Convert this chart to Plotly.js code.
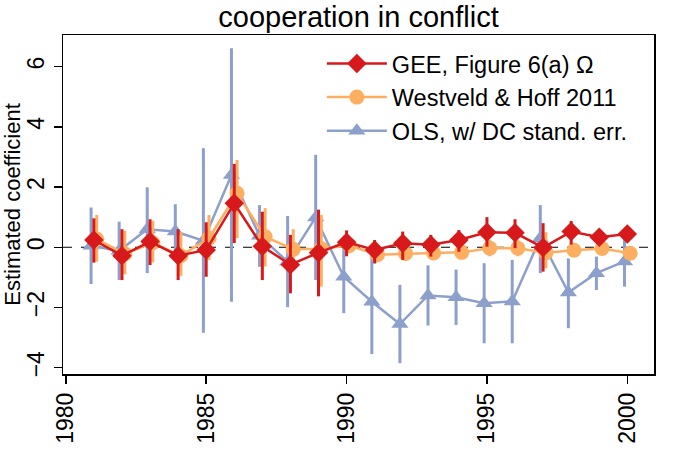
<!DOCTYPE html>
<html>
<head>
<meta charset="utf-8">
<script src="https://cdn.plot.ly/plotly-3.0.1.min.js"></script>
<style>html,body{margin:0;padding:0;background:#fff;}#chart{width:675px;height:450px;}</style>
</head>
<body>
<div id="chart"></div>
<script>
const years = [1981,1982,1983,1984,1985,1986,1987,1988,1989,1990,1991,1992,1993,1994,1995,1996,1997,1998,1999,2000];

// GEE, Figure 6(a) Omega
const geeEst   = [0.24,-0.28,0.19,-0.28,-0.09,1.46,0.03,-0.58,-0.18,0.17,-0.09,0.13,0.08,0.24,0.50,0.48,-0.01,0.52,0.33,0.44];
const geeLow   = [-0.51,-1.09,-0.59,-1.09,-0.98,0.14,-1.09,-1.53,-1.63,-0.30,-0.54,-0.42,-0.31,-0.15,0.02,-0.03,-0.81,0.09,0.18,0.29];
const geeHigh  = [0.96,0.60,0.93,0.60,0.83,2.77,1.18,0.41,1.25,0.56,0.24,0.52,0.41,0.57,1.00,0.93,0.80,0.87,0.48,0.59];

// Westveld & Hoff 2011
const whEst    = [0.27,-0.22,0.15,-0.28,0.30,1.79,0.35,-0.07,-0.05,0.06,-0.25,-0.21,-0.19,-0.17,-0.03,-0.03,-0.18,-0.10,-0.04,-0.20];
const whLow    = [-0.48,-0.90,-0.50,-0.95,-0.42,0.30,-0.64,-0.70,-1.31,-0.20,-0.50,-0.45,-0.42,-0.40,-0.30,-0.30,-0.70,-0.32,-0.25,-0.40];
const whHigh   = [1.07,0.55,0.88,0.50,1.07,2.90,1.30,0.60,1.07,0.30,0.00,0.03,0.05,0.06,0.25,0.25,0.50,0.12,0.17,0.00];

// OLS, w/ DC standard errors
const olsEst   = [0.05,-0.12,0.60,0.52,0.22,2.40,0.38,-0.48,0.99,-0.98,-1.81,-2.55,-1.60,-1.66,-1.86,-1.80,0.30,-1.50,-0.86,-0.47];
const olsLow   = [-1.22,-1.09,-0.86,-0.39,-2.84,-1.81,-0.65,-1.99,-1.09,-2.19,-3.55,-3.85,-2.60,-2.58,-3.19,-3.19,-0.86,-2.69,-1.42,-1.31];
const olsHigh  = [1.32,0.85,1.99,1.43,3.29,6.61,1.40,1.04,3.07,0.22,-0.07,-1.25,-0.60,-0.74,-0.53,-0.42,1.40,-0.37,-0.31,0.35];

const names = ["GEE, Figure 6(a) Ω", "Westveld & Hoff 2011", "OLS, w/ DC stand. err."];
const colors = ["#D7191C", "#FDAE61", "#8DA0CB"];

function shift(arr, d){ return arr.map(v => v + d); }
function errPlus(est, hi){ return est.map((v,i) => hi[i] - v); }
function errMinus(est, lo){ return est.map((v,i) => v - lo[i]); }

const ols = {
  x: shift(years, -0.1), y: olsEst, name: names[2], type: 'scatter', mode: 'lines+markers',
  line: {color: colors[2], width: 2.5},
  marker: {symbol: 'triangle-up', size: 15, color: colors[2]},
  error_y: {type: 'data', symmetric: false, array: errPlus(olsEst, olsHigh), arrayminus: errMinus(olsEst, olsLow),
            color: colors[2], thickness: 3, width: 0}
};
const wh = {
  x: shift(years, 0.1), y: whEst, name: names[1], type: 'scatter', mode: 'lines+markers',
  line: {color: colors[1], width: 2.5},
  marker: {symbol: 'circle', size: 15, color: colors[1]},
  error_y: {type: 'data', symmetric: false, array: errPlus(whEst, whHigh), arrayminus: errMinus(whEst, whLow),
            color: colors[1], thickness: 3, width: 0}
};
const gee = {
  x: years, y: geeEst, name: names[0], type: 'scatter', mode: 'lines+markers',
  line: {color: colors[0], width: 2.5},
  marker: {symbol: 'diamond', size: 15, color: colors[0]},
  error_y: {type: 'data', symmetric: false, array: errPlus(geeEst, geeHigh), arrayminus: errMinus(geeEst, geeLow),
            color: colors[0], thickness: 3, width: 0}
};

const font = "Liberation Sans, Arial, Helvetica, sans-serif";
const layout = {
  width: 675, height: 450,
  margin: {l: 63, r: 21, t: 35, b: 76},
  paper_bgcolor: '#fff', plot_bgcolor: '#fff',
  font: {family: font, size: 23, color: '#000'},
  title: {text: 'cooperation in conflict', x: 0.5, xref: 'paper', xanchor: 'center', y: 0.962, yanchor: 'middle',
          font: {family: font, size: 29, color: '#000'}},
  showlegend: true,
  legend: {x: 0.438, y: 0.98, xanchor: 'left', yanchor: 'top', traceorder: 'reversed', itemwidth: 60,
           bgcolor: 'rgba(0,0,0,0)', borderwidth: 0, font: {family: font, size: 23.5, color: '#000'},
           tracegroupgap: 0},
  xaxis: {range: [1979.9, 2000.95], tickvals: [1980,1985,1990,1995,2000], tickangle: -90,
          ticks: 'outside', ticklen: 8, tickwidth: 1.5, tickcolor: '#000',
          showgrid: false, zeroline: false, showline: true, mirror: true, linecolor: '#000', linewidth: 1.5,
          tickfont: {family: font, size: 23, color: '#000'}},
  yaxis: {range: [-4.21, 7.05], tickvals: [-4,-2,0,2,4,6], tickangle: -90,
          ticks: 'outside', ticklen: 8, tickwidth: 1.5, tickcolor: '#000',
          showgrid: false, zeroline: false, showline: true, mirror: true, linecolor: '#000', linewidth: 1.5,
          tickfont: {family: font, size: 23, color: '#000'},
          title: {text: 'Estimated coefficient', font: {family: font, size: 22, color: '#000'}, standoff: 4}},
  shapes: [{type: 'line', xref: 'paper', x0: 0, x1: 1, yref: 'y', y0: 0, y1: 0,
            line: {color: '#000', width: 1, dash: 'dash'}, layer: 'below'}]
};

Plotly.newPlot('chart', [ols, wh, gee], layout, {displayModeBar: false, staticPlot: true});
</script>
</body>
</html>
